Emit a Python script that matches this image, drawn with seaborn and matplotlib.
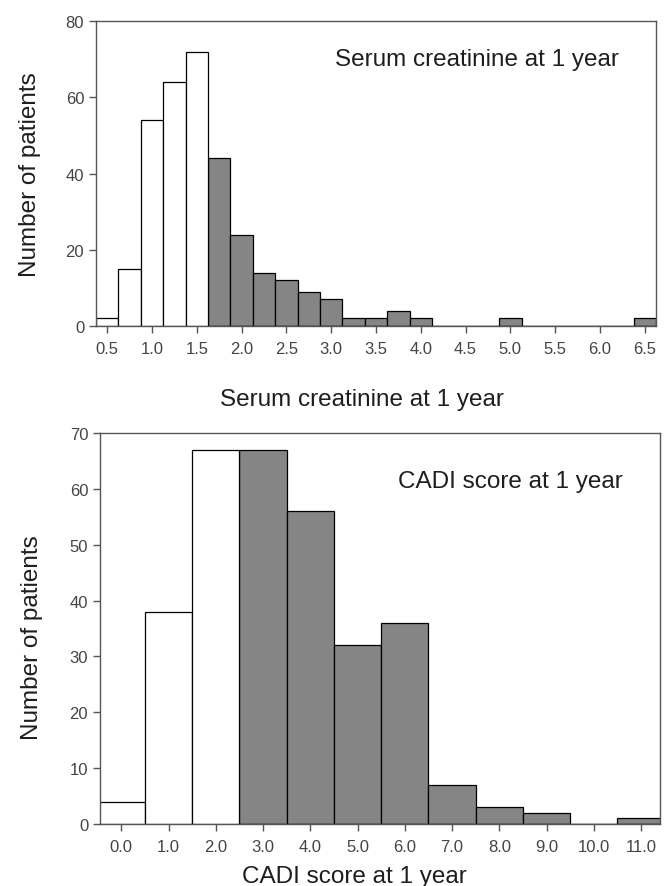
import numpy as np
import pandas as pd
import matplotlib
matplotlib.use("Agg")
import matplotlib.pyplot as plt
import seaborn as sns

# serum creatinine at 1 year, bin centres (width 0.25) and counts
serum_levels = [0.5, 0.75, 1.0, 1.25, 1.5, 1.75, 2.0, 2.25, 2.5, 2.75, 3.0, 3.25, 3.5,
                3.75, 4.0, 4.25, 4.5, 4.75, 5.0, 5.25, 5.5, 5.75, 6.0, 6.25, 6.5]
serum_counts = [2, 15, 54, 64, 72, 44, 24, 14, 12, 9, 7, 2, 2,
                4, 2, 0, 0, 0, 2, 0, 0, 0, 0, 0, 2]
serum_ticks = [0.5, 1.0, 1.5, 2.0, 2.5, 3.0, 3.5, 4.0, 4.5, 5.0, 5.5, 6.0, 6.5]

# CADI score at 1 year
cadi_levels = [0, 1, 2, 3, 4, 5, 6, 7, 8, 9, 10, 11]
cadi_counts = [4, 38, 67, 67, 56, 32, 36, 7, 3, 2, 0, 1]

serum_cut = 1.75
cadi_cut = 3

sns.set_style("white")
plt.rcParams["font.family"] = ["Liberation Sans", "DejaVu Sans"]

serum = pd.DataFrame({"level": serum_levels, "n": serum_counts})
serum["group"] = np.where(serum["level"] >= serum_cut, "high", "low")
cadi = pd.DataFrame({"level": cadi_levels, "n": cadi_counts})
cadi["group"] = np.where(cadi["level"] >= cadi_cut, "high", "low")

pal = {"low": "white", "high": "#858585"}
spine_col = "#555555"
tick_col = "#444444"
text_col = "#1e1e1e"
fs = 17.5
narrow = ["Liberation Sans Narrow", "Liberation Sans", "DejaVu Sans"]

fig = plt.figure(figsize=(6.68, 8.87), dpi=100)
ax1 = fig.add_axes([0.1437, 0.6313, 0.8383, 0.3439])
ax2 = fig.add_axes([0.1497, 0.0699, 0.8383, 0.4408])

sns.histplot(data=serum, x="level", weights="n", hue="group", palette=pal,
             binwidth=0.25, binrange=(0.375, 6.625), multiple="layer", alpha=1,
             edgecolor="black", linewidth=0.9, legend=False, ax=ax1)
sns.histplot(data=cadi, x="level", weights="n", hue="group", palette=pal,
             binwidth=1.0, binrange=(-0.5, 11.5), multiple="layer", alpha=1,
             edgecolor="black", linewidth=0.9, legend=False, ax=ax2)

ax1.set_xlim(0.375, 6.625)
ax1.set_ylim(0, 80)
ax1.set_xticks(serum_ticks)
ax1.set_xticklabels([f"{t:.1f}" for t in serum_ticks])
ax1.set_yticks([0, 20, 40, 60, 80])
ax1.text(0.427, 0.875, "Serum creatinine at 1 year", transform=ax1.transAxes,
         fontsize=fs, va="center", ha="left", color=text_col)
ax1.set_xlabel("Serum creatinine at 1 year", fontsize=fs, color=text_col)
ax1.set_ylabel("Number of patients", fontsize=fs, color=text_col)
ax1.xaxis.set_label_coords(0.475, -0.203)
ax1.yaxis.set_label_coords(-0.098, 0.5)

ax2.set_xlim(-0.45, 11.4)
ax2.set_ylim(0, 70)
ax2.set_xticks(cadi_levels)
ax2.set_xticklabels([f"{t:.1f}" for t in cadi_levels])
ax2.set_yticks(range(0, 71, 10))
ax2.text(0.532, 0.877, "CADI score at 1 year", transform=ax2.transAxes,
         fontsize=fs, va="center", ha="left", color=text_col)
ax2.set_xlabel("CADI score at 1 year", fontsize=fs, color=text_col)
ax2.set_ylabel("Number of patients", fontsize=fs, color=text_col)
ax2.xaxis.set_label_coords(0.455, -0.105)
ax2.yaxis.set_label_coords(-0.102, 0.478)

for ax in (ax1, ax2):
    for s in ax.spines.values():
        s.set_color(spine_col)
        s.set_linewidth(1.0)
    ax.tick_params(axis="both", direction="out", length=5, width=1,
                   color=spine_col, labelsize=12, labelcolor=tick_col,
                   bottom=True, left=True)
    ax.tick_params(axis="x", pad=6)
    for lab in ax.get_xticklabels() + ax.get_yticklabels():
        lab.set_family(narrow)

fig.savefig("out.png", dpi=100)
